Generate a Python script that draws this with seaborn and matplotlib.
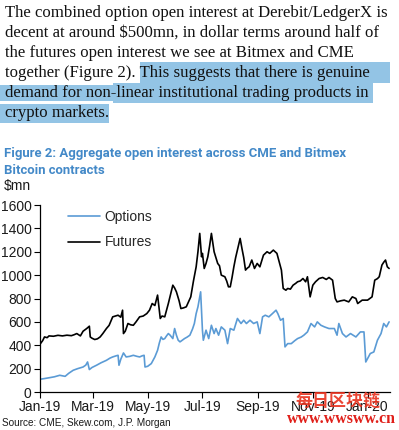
import numpy as np
import pandas as pd
import matplotlib
matplotlib.use("Agg")
import matplotlib.pyplot as plt
import matplotlib.dates as mdates
from matplotlib.patches import Rectangle
import seaborn as sns

# ---------------- data (day offset from 2019-01-01, $mn) ----------------
opt_days = [0, 5, 11, 16, 22, 28, 32, 37, 42, 48, 51, 53, 55, 58, 63, 68, 74, 78, 81, 85,
            87, 88, 90, 93, 96, 100, 104, 108, 111, 114, 116, 117, 120, 124, 128, 131, 133,
            135, 137, 139, 141, 143, 145, 148, 150, 152, 154, 156, 158, 161, 164, 167, 170,
            172, 174, 176, 179, 181, 182, 185, 188, 191, 194, 196, 199, 202, 206, 209, 212,
            216, 220, 224, 227, 230, 234, 238, 242, 245, 248, 251, 255, 259, 263, 265, 268,
            271, 273, 276, 280, 284, 287, 291, 294, 298, 302, 306, 309, 313, 317, 322, 328,
            331, 333, 337, 341, 346, 352, 357, 361, 363, 366, 368, 372, 376, 380, 383, 386, 389]
opt_vals = [109, 115, 123, 130, 143, 134, 160, 186, 200, 214, 230, 257, 192, 210, 229, 250,
            271, 290, 300, 310, 314, 229, 280, 334, 300, 305, 314, 305, 300, 310, 314, 214,
            220, 243, 300, 357, 420, 471, 450, 457, 480, 500, 486, 457, 543, 486, 443, 429,
            440, 457, 470, 486, 540, 586, 671, 729, 857, 529, 443, 529, 457, 571, 500, 543,
            486, 557, 529, 414, 543, 529, 629, 586, 614, 586, 614, 586, 600, 500, 643, 657,
            643, 671, 700, 671, 614, 629, 386, 414, 414, 440, 457, 470, 486, 514, 586, 557,
            600, 571, 557, 543, 543, 486, 586, 500, 471, 500, 471, 514, 514, 257, 300, 329,
            343, 443, 500, 586, 557, 600]

fut_days = [0, 3, 5, 8, 10, 15, 20, 25, 30, 35, 38, 41, 45, 48, 52, 55, 56, 58, 61, 64, 67,
            70, 74, 77, 81, 84, 87, 90, 92, 93, 95, 98, 101, 104, 107, 111, 115, 119, 122,
            125, 128, 131, 133, 134, 136, 139, 141, 143, 146, 148, 150, 152, 155, 157, 160,
            163, 166, 168, 171, 174, 176, 178, 180, 181, 183, 185, 187, 189, 191, 194, 196,
            198, 200, 202, 206, 208, 210, 212, 214, 216, 218, 220, 223, 225, 227, 229, 231,
            233, 236, 239, 242, 245, 249, 253, 256, 260, 264, 266, 269, 271, 274, 276, 279,
            282, 285, 287, 290, 293, 296, 298, 301, 304, 307, 311, 315, 319, 322, 326, 329,
            331, 335, 339, 344, 348, 352, 354, 359, 365, 370, 373, 376, 378, 381, 383, 385,
            386, 387, 389]
fut_vals = [409, 440, 471, 465, 480, 477, 485, 480, 486, 482, 490, 500, 480, 520, 543, 563,
            471, 460, 449, 455, 471, 500, 543, 570, 643, 650, 657, 640, 700, 500, 520, 586,
            575, 571, 600, 643, 650, 671, 700, 757, 740, 829, 700, 629, 650, 643, 700, 757,
            850, 914, 890, 857, 780, 714, 720, 729, 780, 814, 950, 1071, 1200, 1357, 1157,
            1186, 1057, 1100, 1157, 1250, 1357, 1200, 1150, 1100, 1080, 1000, 986, 950, 900,
            900, 980, 1071, 1150, 1214, 1314, 1229, 1150, 1043, 1060, 1071, 1129, 1057, 1100,
            1071, 1171, 1200, 1186, 1214, 1186, 1129, 1043, 886, 871, 886, 880, 914, 930, 943,
            950, 971, 943, 986, 814, 914, 943, 971, 980, 963, 980, 957, 800, 771, 780, 786,
            771, 814, 800, 757, 786, 786, 814, 957, 970, 986, 1086, 1110, 1129, 1100, 1071, 1057]

series_names = ["Options", "Futures"]
y_ticks = [0, 200, 400, 600, 800, 1000, 1200, 1400, 1600]
x_tick_dates = ["2019-01-01", "2019-03-01", "2019-05-01", "2019-07-01",
                "2019-09-01", "2019-11-01", "2020-01-01"]

paragraph = [
    "The combined option open interest at Derebit/LedgerX is",
    "decent at around $500mn, in dollar terms around half of",
    "the futures open interest we see at Bitmex and CME",
    "together (Figure 2). This suggests that there is genuine",
    "demand for non-linear institutional trading products in",
    "crypto markets.",
]
title_lines = ["Figure 2: Aggregate open interest across CME and Bitmex",
               "Bitcoin contracts"]
unit_label = "$mn"
source_text = "Source: CME, Skew.com, J.P. Morgan"
wm_cn = "每日区块链"
wm_url = "www.wwsww.cn"

# ---------------- styling ----------------
sns.set_theme(style="ticks")
SANS = ["Liberation Sans", "DejaVu Sans"]
TITLE_FONT = ["Roboto", "Liberation Sans", "DejaVu Sans"]
plt.rcParams["font.family"] = SANS
plt.rcParams["text.parse_math"] = False

W, H = 399, 430
fig = plt.figure(figsize=(W / 100, H / 100), dpi=100)
fig.patch.set_facecolor("white")

def fx(x):
    return x / W

def fy(y):
    return 1 - y / H

start = pd.Timestamp("2019-01-01")
df = pd.concat([
    pd.DataFrame({"date": start + pd.to_timedelta(opt_days, unit="D"),
                  "value": opt_vals, "series": series_names[0]}),
    pd.DataFrame({"date": start + pd.to_timedelta(fut_days, unit="D"),
                  "value": fut_vals, "series": series_names[1]}),
], ignore_index=True)

ax = fig.add_axes([fx(40), fy(392), fx(350), 187 / H])
sns.lineplot(data=df, x="date", y="value", hue="series",
             palette={"Options": "#5b9bd5", "Futures": "#000000"},
             linewidth=1.2, ax=ax, estimator=None, sort=True)

ax.set_ylim(0, 1600)
ax.set_yticks(y_ticks)
ax.set_xlim(start, start + pd.Timedelta(days=390))
ax.set_xticks(pd.to_datetime(x_tick_dates))
ax.xaxis.set_major_formatter(mdates.DateFormatter("%b-%y"))
ax.set_xlabel("")
ax.set_ylabel("")
ax.set_facecolor("white")
for s in ["top", "right"]:
    ax.spines[s].set_visible(False)
for s in ["left", "bottom"]:
    ax.spines[s].set_linewidth(0.9)
    ax.spines[s].set_color("black")
ax.tick_params(axis="both", direction="out", length=4, width=0.8, color="black",
               labelsize=10, labelcolor="#1a1a1a", pad=2)
ax.tick_params(axis="x", pad=1.5)

handles, labels = ax.get_legend_handles_labels()
ax.legend(handles, labels, loc="upper left", bbox_to_anchor=(0.08, 0.975),
          frameon=False, fontsize=10, handlelength=2.3, handletextpad=0.35,
          labelspacing=0.85, borderpad=0, borderaxespad=0)

# ---------------- texts ----------------
fig.canvas.draw()
renderer = fig.canvas.get_renderer()

def fit(t, target_w):
    bb = t.get_window_extent(renderer)
    t.set_fontsize(t.get_fontsize() * target_w / bb.width)
    return t.get_fontsize()

# highlight boxes
hl = "#93c4e5"
for (x0, y0, x1, y1) in [(140, 62, 390, 83), (0, 85, 113, 101), (113, 83, 373, 103),
                         (0, 104, 109, 123)]:
    fig.add_artist(Rectangle((fx(x0), fy(y1)), fx(x1 - x0), (y1 - y0) / H,
                             transform=fig.transFigure, facecolor=hl,
                             edgecolor="none", zorder=0))

serif = ["Liberation Serif", "DejaVu Serif"]
para_texts = []
for i, line in enumerate(paragraph):
    t = fig.text(fx(5), fy(17 + 20 * i), line, family=serif, fontsize=12,
                 color="#111111", va="baseline", ha="left", zorder=2)
    para_texts.append(t)
fsz = fit(para_texts[0], 383)
for t in para_texts:
    t.set_fontsize(fsz)

tcol = "#4389c8"
tt = []
for i, line in enumerate(title_lines):
    t = fig.text(fx(4), fy(157 + 16.5 * i), line, family=TITLE_FONT, fontweight="bold",
                 fontsize=11, color=tcol, va="baseline", ha="left")
    tt.append(t)
fsz = fit(tt[0], 343)
for t in tt:
    t.set_fontsize(fsz)

fig.text(fx(4), fy(190), unit_label, family=SANS, fontsize=10, color="#1a1a1a",
         va="baseline", ha="left")
st = fig.text(fx(2), fy(426), source_text, family=SANS, fontsize=10,
              color="#1a1a1a", va="baseline", ha="left")
fit(st, 168)

w1 = fig.text(fx(338), fy(401), wm_cn, family=["Noto Sans CJK SC", "DejaVu Sans"],
              fontweight="bold", fontsize=14, color="#e8321e", alpha=0.9,
              va="center", ha="center", zorder=5)
fit(w1, 85)
w2 = fig.text(fx(341), fy(419), wm_url, family=serif, fontweight="bold",
              fontsize=11, color="#e0201a", va="center", ha="center", zorder=5)
fit(w2, 108)

fig.savefig("out.png", dpi=100, facecolor="white")
